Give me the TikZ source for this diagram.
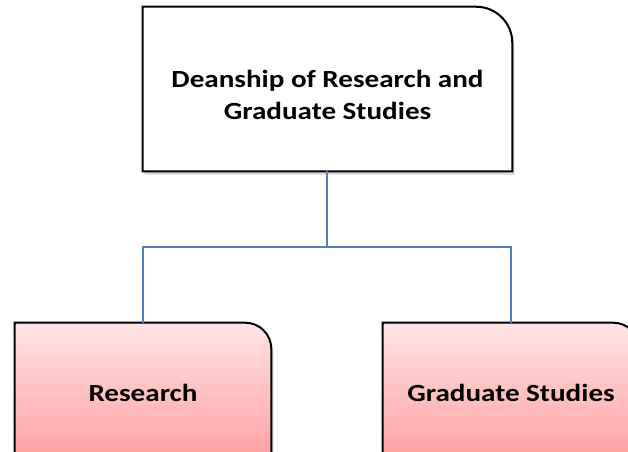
\documentclass[tikz,border=0pt]{standalone}
\usepackage{fontspec}
\setmainfont{Carlito}[FakeStretch=1.18]
\usetikzlibrary{shadows,backgrounds}
\definecolor{connblue}{HTML}{4F81BD}
\definecolor{pinktop}{HTML}{FFE4E4}
\definecolor{pinkbot}{HTML}{FF9E9E}
\tikzset{
  boxtext/.style={inner sep=0pt, align=center, font=\fontsize{18.5}{24}\selectfont\bfseries},
  topbox/.style={boxtext, minimum width=276.75pt, minimum height=123pt},
  childbox/.style={boxtext, minimum width=192pt, minimum height=105pt},
  outline/.style={draw=black, line width=1.5pt, drop shadow={shadow xshift=1.5pt, shadow yshift=-2.5pt, opacity=0.25, fill=black!60}},
  conn/.style={draw=connblue, line width=1.5pt}
}
\begin{document}
\begin{tikzpicture}[x=0.75pt, y=-0.75pt]
\useasboundingbox (0,0) rectangle (628,451);
\clip (0,0) rectangle (628,451);
\node[topbox] (dean) at (327.5,89) {\raisebox{-6pt}[\height][\depth]{\begin{tabular}{@{}c@{}}Deanship of Research and\\Graduate Studies\end{tabular}}};
\node[childbox] (research) at (143,393) {Research};
\node[childbox] (grad) at (511,393) {Graduate Studies};
\coordinate (bus) at (327,247);
\begin{pgfonlayer}{background}
  \fill[white] (0,0) rectangle (628,451);
  \clip (0,0) rectangle (628,451);
  \path[outline, fill=white] (dean.south west) -- (dean.north west) -- ([xshift=-27pt]dean.north east) arc[start angle=90, end angle=0, radius=27pt] -- (dean.south east) -- cycle;
  \path[outline, top color=pinktop, bottom color=pinkbot] (research.south west) -- (research.north west) -- ([xshift=-19.5pt]research.north east) arc[start angle=90, end angle=0, radius=19.5pt] -- (research.south east) -- cycle;
  \path[outline, top color=pinktop, bottom color=pinkbot] (grad.south west) -- (grad.north west) -- ([xshift=-19.5pt]grad.north east) arc[start angle=90, end angle=0, radius=19.5pt] -- (grad.south east) -- cycle;
\end{pgfonlayer}
\draw[conn] (dean.south -| bus) -- (bus);
\draw[conn] (research.north) |- (bus) -| (grad.north);
\end{tikzpicture}
\end{document}
